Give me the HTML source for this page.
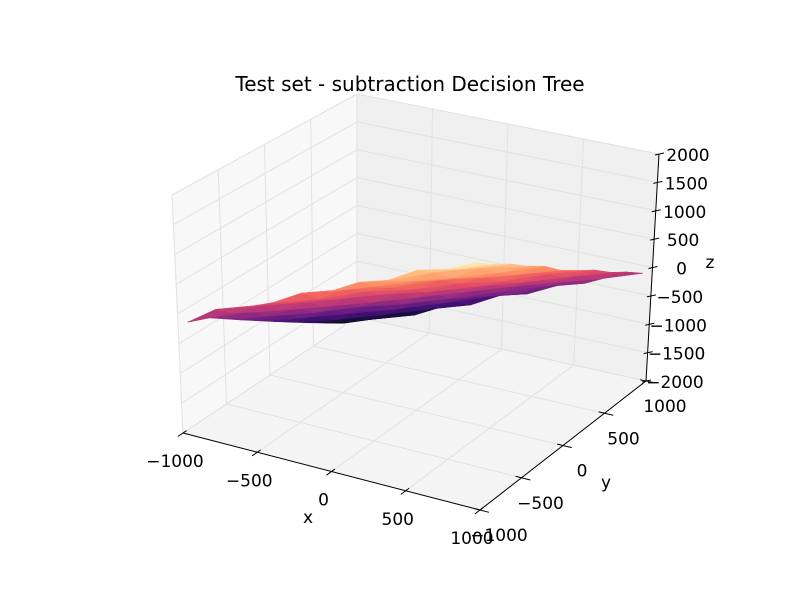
<!DOCTYPE html>
<html><head><meta charset="utf-8"><style>
html,body{margin:0;padding:0;background:#fff;}
svg{display:block;font-family:"DejaVu Sans","Liberation Sans",sans-serif;}
</style></head><body>
<svg id="chart" width="800" height="600" viewBox="0 0 800 600">
<rect width="800" height="600" fill="#fff"/>
<text x="410" y="91" font-size="20" text-anchor="middle">Test set - subtraction Decision Tree</text>
<g id="panes"></g><g id="grid"></g><g id="surf"></g><g id="axes"></g>
</svg>
<script>
const xTicks=[-1000,-500,0,500,1000];
const yTicks=[-1000,-500,0,500,1000];
const zTicks=[-2000,-1500,-1000,-500,0,500,1000,1500,2000];
const xGrid=[-960,-768,-576,-384,-192,0,192,384,576,768,960];
const yGrid=[-960,-768,-576,-384,-192,0,192,384,576,768,960];
const zRows=[
[-150,180,330,520,790,930,1190,1330,1600,1720,1930],
[-250,-60,190,340,520,790,950,1140,1400,1560,1740],
[-450,-200,-80,170,340,580,760,970,1130,1400,1570],
[-650,-470,-210,-80,210,350,540,810,950,1140,1360],
[-850,-620,-480,-200,-80,190,320,570,780,930,1180],
[-1050,-870,-620,-450,-200,-70,200,330,530,800,930],
[-1250,-1010,-870,-600,-480,-190,-60,190,320,580,740],
[-1450,-1280,-1010,-880,-610,-470,-180,-50,220,330,560],
[-1650,-1430,-1280,-1020,-860,-650,-450,-200,-60,180,330],
[-1850,-1670,-1410,-1270,-1030,-820,-680,-430,-240,-90,140],
[-2000,-1800,-1680,-1420,-1280,-1010,-870,-620,-470,-230,-80]];

const NS='http://www.w3.org/2000/svg';
const C={
 '000':[183,433],'100':[480,510],'010':[357,317],'110':[646,381],
 '001':[172,195],'101':[478,262],'011':[357,94],'111':[659,154]};
function P(x,y,z){
 const u=(x+1000)/2000,v=(y+1000)/2000,w=(z+2000)/4000;
 let r=[0,0];
 for(const a of [0,1])for(const b of [0,1])for(const c of [0,1]){
  const wt=(a?u:1-u)*(b?v:1-v)*(c?w:1-w);const p=C[''+a+b+c];
  r[0]+=wt*p[0];r[1]+=wt*p[1];}
 return r;}
function el(t,at,parent){const e=document.createElementNS(NS,t);for(const k in at)e.setAttribute(k,at[k]);parent.appendChild(e);return e;}
function poly(pts){return pts.map(p=>p[0].toFixed(1)+','+p[1].toFixed(1)).join(' ');}

const panes=document.getElementById('panes');
let e;
e=el('polygon',{points:poly([P(-1000,-1000,-2000),P(-1000,1000,-2000),P(-1000,1000,2000),P(-1000,-1000,2000)]),fill:'#f8f8f8',stroke:'#eeeeee'},panes);


e=el('polygon',{points:poly([P(-1000,1000,-2000),P(1000,1000,-2000),P(1000,1000,2000),P(-1000,1000,2000)]),fill:'#f0f0f0',stroke:'#eeeeee'},panes);


e=el('polygon',{points:poly([P(-1000,-1000,-2000),P(1000,-1000,-2000),P(1000,1000,-2000),P(-1000,1000,-2000)]),fill:'#f4f4f4',stroke:'#eeeeee'},panes);



const grid=document.getElementById('grid');
function gl(a,b,name){const p=P(...a),q=P(...b);const l=el('line',{x1:p[0],y1:p[1],x2:q[0],y2:q[1],stroke:'#e2e2e2','stroke-width':1},grid);
 
 }
xTicks.forEach(x=>{gl([x,-1000,-2000],[x,1000,-2000],'floor-gridline-x');gl([x,1000,-2000],[x,1000,2000],'back-gridline-x');});
yTicks.forEach(y=>{gl([-1000,y,-2000],[1000,y,-2000],'floor-gridline-y');gl([-1000,y,-2000],[-1000,y,2000],'left-gridline-y');});
zTicks.forEach(z=>{gl([-1000,-1000,z],[-1000,1000,z],'left-gridline-z');gl([-1000,1000,z],[1000,1000,z],'back-gridline-z');});

const mag=['#000004','#140e36','#3b0f70','#641a80','#8c2981','#b73779','#de4968','#f7705c','#fe9f6d','#fecf92','#fcfdbf'];
function hx(h){return [1,3,5].map(i=>parseInt(h.substr(i,2),16));}
function cmap(t){t=Math.max(0,Math.min(1,t))*10;const i=Math.min(9,Math.floor(t)),f=t-i;const a=hx(mag[i]),b=hx(mag[i+1]);
 return 'rgb('+a.map((v,k)=>Math.round(v+(b[k]-v)*f)).join(',')+')';}
const surf=document.getElementById('surf');
let tris=[];
for(let j=0;j<yGrid.length-1;j++)for(let i=0;i<xGrid.length-1;i++){
 const a=[xGrid[i],yGrid[j],zRows[j][i]],b=[xGrid[i+1],yGrid[j],zRows[j][i+1]],
 c=[xGrid[i+1],yGrid[j+1],zRows[j+1][i+1]],d=[xGrid[i],yGrid[j+1],zRows[j+1][i]];
 tris.push([a,b,c]);tris.push([a,c,d]);}
tris.forEach(t=>{const m=[0,1,2].map(k=>(t[0][k]+t[1][k]+t[2][k])/3);t.depth=m[0]*0.5/1000-m[1]*0.87/1000+m[2]*0.5/2000;t.zm=m[2];});
tris.sort((a,b)=>a.depth-b.depth);
tris.forEach(t=>{const col=cmap((t.zm+2000)/4000);
 const p=el('polygon',{points:poly(t.map(v=>P(...v))),fill:col,stroke:col,'stroke-width':0.5},surf);
 
 });

const axes=document.getElementById('axes');
function axLine(a,b,name){const p=P(...a),q=P(...b);const l=el('line',{x1:p[0],y1:p[1],x2:q[0],y2:q[1],stroke:'#000','stroke-width':1},axes);
 
 }
function txt(x,y,s,name,anchor,fs){const t=el('text',{x:x,y:y,'font-size':fs||17,'text-anchor':anchor||'middle'},axes);t.textContent=s;
 
 }
function lab(v){return v<0?'\u2212'+(-v):''+v;}
axLine([-1000,-1000,-2000],[1000,-1000,-2000],'x-axis-line');
axLine([1000,-1000,-2000],[1000,1000,-2000],'y-axis-line');
axLine([1000,1000,-2000],[1000,1000,2000],'z-axis-line');
xTicks.forEach(x=>{const q=P(x,-960,-2000),r=P(x,-1060,-2000),p=P(x,-1000,-2000);
 const l=el('line',{x1:q[0],y1:q[1],x2:r[0],y2:r[1],stroke:'#000'},axes);
 
 
 txt(p[0]-8,p[1]+34,lab(x),'x-tick-label');});
yTicks.forEach(y=>{const p=P(1000,y,-2000),q=P(960,y,-2000),r=P(1060,y,-2000);
 const l=el('line',{x1:q[0],y1:q[1],x2:r[0],y2:r[1],stroke:'#000'},axes);
 
 
 txt(p[0]+19,p[1]+31,lab(y),'y-tick-label');});
zTicks.forEach(z=>{const p=P(1000,1000,z);
 const l=el('line',{x1:p[0]-4,y1:p[1]+1,x2:p[0]+5,y2:p[1]-1,stroke:'#000'},axes);
 
 
 txt(p[0]+29,p[1]+7,lab(z),'z-tick-label');});
txt(308,523,'x','x-axis-title');
txt(606,488,'y','y-axis-title');
txt(710,268,'z','z-axis-title');
</script>
</body></html>
